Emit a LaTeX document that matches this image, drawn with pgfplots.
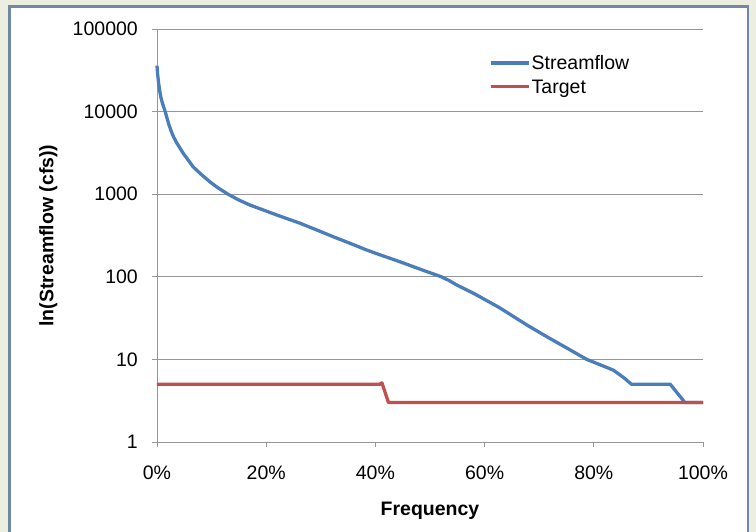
\documentclass[border=0pt]{standalone}
\usepackage{pgfplots}
\pgfplotsset{compat=1.18}
\usepackage{fontspec}
\setmainfont{Liberation Sans}

\definecolor{pagebg}{HTML}{ECEEE2}
\definecolor{framec}{HTML}{7088A2}
\definecolor{flowblue}{HTML}{4A7EBB}
\definecolor{targetred}{HTML}{C0504D}
\definecolor{gridgray}{HTML}{969696}

\begin{document}
\begin{tikzpicture}[x=1pt,y=1pt]
  \useasboundingbox (0,0) rectangle (756,532);
  % page background and framed white panel
  \fill[pagebg] (0,0) rectangle (756,532);
  \draw[framec, line width=2.6pt, fill=white] (9.5,-10) rectangle (748,525.5);

  \begin{axis}[
    at={(157pt,90pt)}, anchor=south west,
    scale only axis, width=546pt, height=413pt,
    ymode=log, log basis y=10,
    xmin=0, xmax=100, ymin=1, ymax=100000,
    clip=false,
    axis lines*=left,
    axis line style={gridgray, line width=0.8pt},
    xtick={0,20,40,60,80,100},
    xticklabels={0\%,20\%,40\%,60\%,80\%,100\%},
    ytick={1,10,100,1000,10000,100000},
    yticklabels={1,10,100,1000,10000,100000},
    minor ytick={}, minor tick num=0,
    log ticks with fixed point,
    tick align=outside, major tick length=5pt,
    tick style={gridgray, line width=0.8pt},
    ymajorgrids, major grid style={gridgray, line width=0.8pt},
    /pgf/number format/assume math mode=true,
    tick label style={font=\fontsize{19.5}{22}\selectfont, text=black},
    yticklabel style={inner sep=0pt, xshift=-14pt},
    xticklabel style={inner sep=0pt, yshift=-19pt},
    xlabel={Frequency},
    ylabel={ln(Streamflow (cfs))},
    every axis x label/.style={at={(axis description cs:0.5,-0.179)}, anchor=base,
      font=\fontsize{19.5}{22}\selectfont\bfseries},
    every axis y label/.style={at={(axis description cs:-0.19,0.5)}, rotate=90, anchor=base,
      font=\fontsize{19.5}{22}\selectfont\bfseries},
    legend style={at={(axis description cs:0.609,0.937)}, anchor=north west,
      draw=none, fill=none, inner sep=0pt, row sep=4pt,
      font=\fontsize{19.5}{22}\selectfont,
      nodes={inner sep=0.7pt, text height=14pt, text depth=4pt}},
    legend cell align=left,
    legend image code/.code={\draw[#1] (0pt,2pt) -- (38pt,2pt);},
  ]
    % flow duration curve
    \addplot[flowblue, line width=3.3pt, line join=round] coordinates {
      (0,36000) (0.1,29000) (0.3,22000) (0.5,17800) (0.7,15000) (1,12600)
      (1.5,10000) (1.8,8500) (2.2,6900) (2.6,5800) (3,5000) (3.5,4300)
      (4,3800) (4.8,3130) (5.7,2600) (6.6,2150) (8,1760) (9.7,1410)
      (11,1215) (13,1000) (15,850) (17,740) (20,625) (22,558)
      (24.4,490) (26.2,445) (29,375) (32.3,305) (35,260) (38.4,211)
      (41,183) (44.5,152) (48,125) (50,112) (52.1,100) (53.5,90) (55,79)
      (58,63) (59.2,57) (62.8,42) (65.3,33) (68,25.5) (71.4,18.8)
      (75,13.8) (78.7,10) (81,8.7) (83.6,7.4) (85.5,6) (86.9,5)
      (94,5) (96.7,3) (100,3)
    };
    \addlegendentry{Streamflow}
    % minimum flow target
    \addplot[targetred, line width=3.3pt, line join=round] coordinates {
      (0,5) (40.8,5) (41.2,5.2) (42.4,3) (100,3)
    };
    \addlegendentry{Target}
  \end{axis}
\end{tikzpicture}
\end{document}
